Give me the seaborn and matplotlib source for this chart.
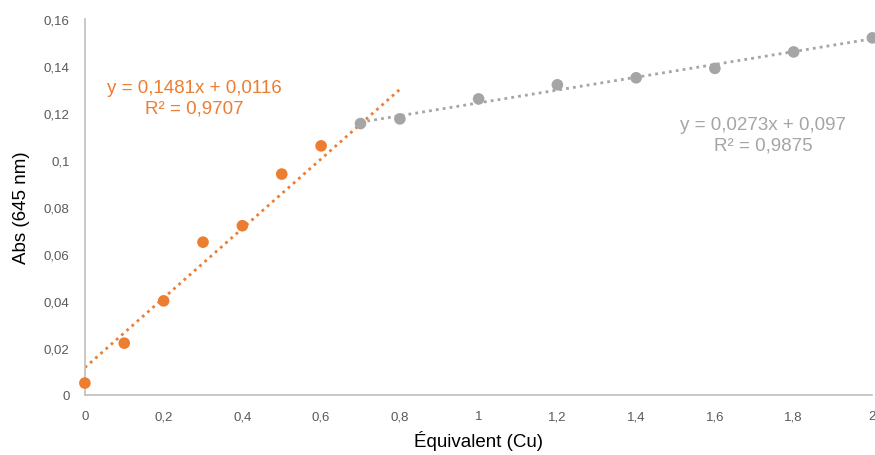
import numpy as np
import pandas as pd
import seaborn as sns
import matplotlib.pyplot as plt
from matplotlib.ticker import FuncFormatter

# données
eq_orange = [0, 0.1, 0.2, 0.3, 0.4, 0.5, 0.6]
abs_orange = [0.005, 0.022, 0.040, 0.065, 0.072, 0.094, 0.106]
eq_gris = [0.7, 0.8, 1.0, 1.2, 1.4, 1.6, 1.8, 2.0]
abs_gris = [0.1155, 0.1175, 0.126, 0.132, 0.135, 0.139, 0.146, 0.152]

# droites de tendance (coefficients affichés)
fit_orange = [0.1481, 0.0116]   # pente, ordonnée
fit_gris = [0.0273, 0.097]
r2_orange = "0,9707"
r2_gris = "0,9875"

ORANGE = "#ED7D31"
GRIS = "#A5A5A5"

sns.set_style("white")
plt.rcParams['font.family'] = ['Liberation Sans', 'DejaVu Sans']

fig = plt.figure(figsize=(8.75, 4.56), dpi=100)
ax = fig.add_axes([0.097, 0.132, 0.9, 0.824])

df_o = pd.DataFrame({"x": eq_orange, "y": abs_orange})
df_g = pd.DataFrame({"x": eq_gris, "y": abs_gris})

# tendances
xo = np.array([0, 0.8])
ax.plot(xo, fit_orange[0] * xo + fit_orange[1], ls=(0, (1, 1.5)), lw=2, color=ORANGE, zorder=2)
xg = np.array([0.7, 2.0])
ax.plot(xg, fit_gris[0] * xg + fit_gris[1], ls=(0, (1, 1.5)), lw=2, color=GRIS, zorder=2)

sns.scatterplot(data=df_o, x="x", y="y", color=ORANGE, s=70, edgecolor="none", ax=ax, zorder=3, clip_on=False)
sns.scatterplot(data=df_g, x="x", y="y", color=GRIS, s=70, edgecolor="none", ax=ax, zorder=3, clip_on=False)

ax.text(0.277, 0.1265, "y = 0,1481x + 0,0116\nR² = " + r2_orange, color=ORANGE,
        fontsize=13.5, ha="center", va="center", linespacing=1.25)
ax.text(1.723, 0.1108, "y = 0,0273x + 0,097\nR² = " + r2_gris, color=GRIS,
        fontsize=13.5, ha="center", va="center", linespacing=1.25)

ax.set_xlim(0, 2)
ax.set_ylim(0, 0.16)
ax.set_xticks(np.arange(0, 2.01, 0.2))
ax.set_yticks(np.arange(0, 0.161, 0.02))
fmt = FuncFormatter(lambda v, p: ("%g" % round(v, 3)).replace(".", ","))
ax.xaxis.set_major_formatter(fmt)
ax.yaxis.set_major_formatter(fmt)
ax.tick_params(axis="both", length=0, labelsize=9.5, colors="#595959", pad=11)

for s in ["top", "right"]:
    ax.spines[s].set_visible(False)
for s in ["left", "bottom"]:
    ax.spines[s].set_color("#BFBFBF")
    ax.spines[s].set_linewidth(1.2)

ax.set_xlabel("Équivalent (Cu)", fontsize=13.5, color="black", labelpad=6)
ax.set_ylabel("Abs (645 nm)", fontsize=13.5, color="black", labelpad=10)

plt.savefig("out.png", dpi=100)
